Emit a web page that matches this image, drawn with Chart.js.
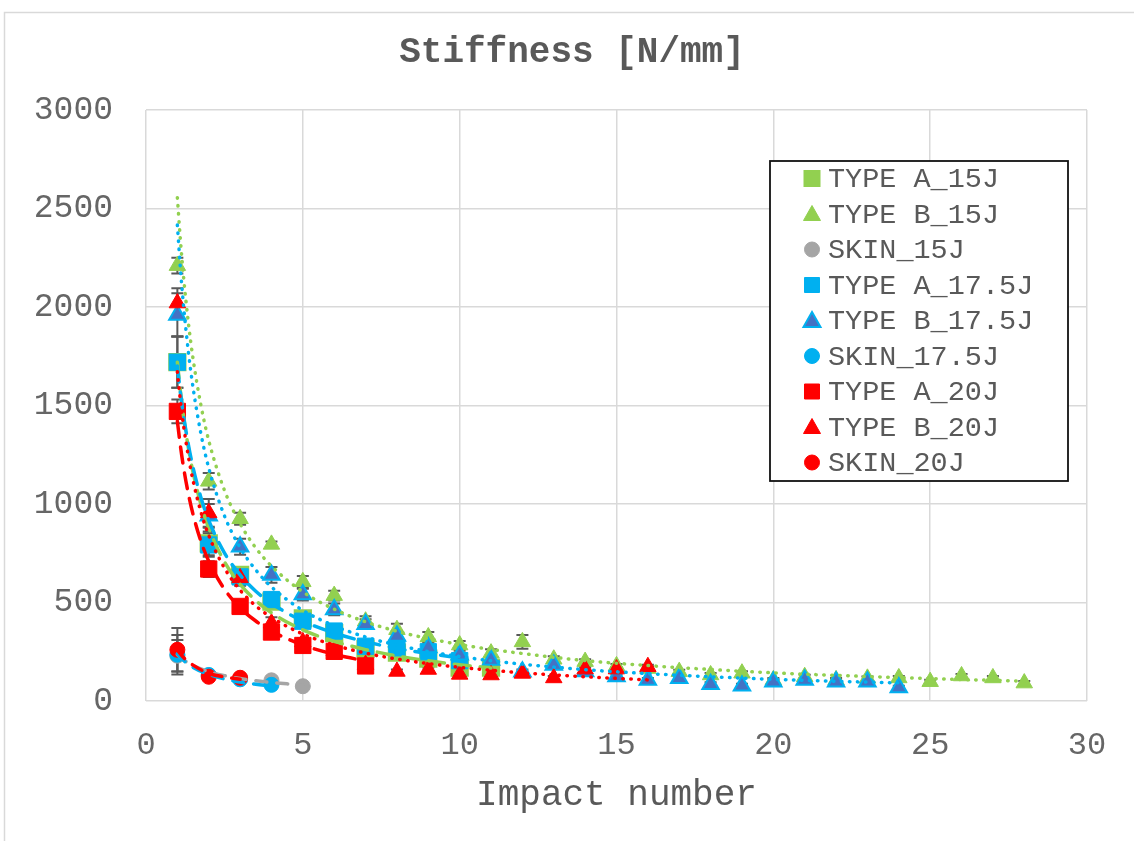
<!DOCTYPE html>
<html><head><meta charset="utf-8">
<script src="https://cdn.jsdelivr.net/npm/chart.js@4.4.1/dist/chart.umd.min.js"></script>
<style>
html,body{margin:0;padding:0;background:#fff;}
canvas{display:block;}
</style></head><body>
<canvas id="c" width="1134" height="841"></canvas>
<script>
// ---------- text ----------
const chartTitle = 'Stiffness [N/mm]';
const xAxisTitle = 'Impact number';
const seriesNames = ['TYPE A_15J','TYPE B_15J','SKIN_15J','TYPE A_17.5J','TYPE B_17.5J','SKIN_17.5J','TYPE A_20J','TYPE B_20J','SKIN_20J'];
const xTicks = [0, 5, 10, 15, 20, 25, 30];
const yTicks = [0, 500, 1000, 1500, 2000, 2500, 3000];

// ---------- measured points (x = impact number 1..n) ----------
const impactNumbers = [1,2,3,4,5,6,7,8,9,10,11,12,13,14,15,16,17,18,19,20,21,22,23,24,25,26,27,28];
const typeA15  = [1720, 800, 640, 505, 420, 345, 265, 245, 215, 170, 170];
const typeB15  = [2210, 1115, 925, 795, 605, 535, 405, 362, 325, 284, 243, 300, 212, 200, 178, 165, 149, 132, 141, 107, 123, 107, 115, 117, 98, 127, 117, 91];
const skin15   = [230, 130, 115, 105, 75];
const typeA175 = [1720, 792, 630, 515, 405, 355, 278, 270, 250, 205];
const typeB175 = [1960, 940, 783, 640, 540, 465, 390, 330, 272, 235, 208, 148, 183, 150, 125, 107, 115, 85, 78, 98, 107, 98, 98, 68];
const skin175  = [235, 132, 110, 82];
const typeA20  = [1470, 670, 480, 350, 282, 252, 178];
const typeB20  = [2020, 955, 625, 395, 300, 255, 185, 150, 160, 135, 132, 140, 117, 162, 162, 174];
const skin20   = [260, 123, 118];

// ---------- error bar half-widths ----------
const errA15  = [130, 60, 30, 25, 20, 15, 15, 10, 10, 10, 10];
const errB15  = [40, 42, 30, 15, 30, 25, 25, 30, 25, 20, 20, 35, 15, 12, 10, 10, 10, 10, 10, 10, 10, 10, 10, 10, 10, 10, 10, 10];
const errS15  = [80, 10, 10, 10, 10];
const errA175 = [130, 60, 30, 30, 20, 15, 15, 10, 10, 10];
const errB175 = [110, 60, 40, 40, 30, 30, 25, 25, 20, 20, 15, 12, 10, 10, 10, 10, 10, 10, 10, 10, 10, 10, 10, 10];
const errS175 = [100, 10, 10, 10];
const errA20  = [60, 40, 30, 30, 20, 15, 10];
const errB20  = [75, 70, 40, 30, 20, 20, 15, 10, 10, 10, 10, 10, 10, 10, 10, 10];
const errS20  = [110, 10, 10];

// ---------- trend lines ----------
const trendX = [1, 1.1, 1.2, 1.35, 1.5, 1.75, 2, 2.5, 3, 3.5, 4, 5, 6, 7, 8, 9, 10, 11, 12, 14, 16, 18, 20, 22, 24, 26, 28];
const trendA15  = [1720, 1568, 1441, 1286, 1161, 999, 878, 707, 593, 510, 448, 361, 303, 261, 229, 204, 184, 168];
const trendB15  = [2555, 2334, 2149, 1921, 1738, 1502, 1322, 1070, 900, 777, 685, 554, 466, 402, 354, 317, 287, 262, 241, 205, 180, 160, 143, 130, 119, 109, 101];
const trendA175 = [1700, 1562, 1445, 1302, 1185, 1033, 917, 752, 640, 557, 495, 406, 345, 301, 267, 241, 219];
const trendB175 = [2416, 2190, 2002, 1774, 1591, 1358, 1183, 940, 779, 665, 579, 460, 382, 325, 284, 251, 226, 204, 187, 159, 139, 123, 110, 100, 92];
const trendA20  = [1420, 1291, 1183, 1052, 947, 811, 710, 568, 473, 406, 355, 284, 237, 203];
const trendB20  = [1671, 1521, 1395, 1242, 1119, 960, 841, 675, 563, 483, 424, 340, 284, 243, 213, 190, 171, 156, 143, 123, 107];
const skinTrendX = [1, 1.25, 1.5, 2, 2.5, 3, 3.5, 4, 4.5, 5];
const trendS15  = [235, 203, 180, 149, 129, 114, 103, 94, 87, 81];
const trendS175 = [240, 199, 171, 135, 112, 96, 85, 76];
const trendS20  = [258, 212, 182, 140, 122, 110];

// ---------- styling ----------
const FONT = "'Liberation Mono', 'Courier New', monospace";
const GREEN = '#92D050', BLUE = '#00B0F0', DBLUE = '#4472C4', RED = '#FF0000', GRAY = '#A5A5A5';
const TEXT = '#595959', TICK = '#666666', GRID = '#D9D9D9';

const pts = (xs, ys) => ys.map((v, i) => ({x: xs[i], y: v}));

function markerDs(i, values, errors, style, fill, border, bw, radius) {
  return {
    label: seriesNames[i], data: pts(impactNumbers, values), errors: errors,
    showLine: false, pointStyle: style, pointRadius: radius, pointHoverRadius: radius,
    pointBackgroundColor: fill, pointBorderColor: border, pointBorderWidth: bw,
    backgroundColor: fill, borderColor: border, order: 100 - i
  };
}
function trendDs(xs, values, color, kind, ord) {
  const dash = kind === 'dot' ? [0.5, 7.5] : (kind === 'long' ? [16, 10] : [11, 10]);
  return {
    type: 'line', label: '', data: pts(xs, values), isTrend: true,
    borderColor: color, borderWidth: 3.5, borderDash: dash, borderCapStyle: 'round',
    pointRadius: 0, fill: false, cubicInterpolationMode: 'monotone', order: ord
  };
}

const datasets = [
  markerDs(0, typeA15, errA15, 'rect', GREEN, GREEN, 2, 11.5),
  markerDs(1, typeB15, errB15, 'triangle', GREEN, GREEN, 1, 9.5),
  markerDs(2, skin15, errS15, 'circle', GRAY, GRAY, 1, 7.5),
  markerDs(3, typeA175, errA175, 'rect', BLUE, BLUE, 1, 11.5),
  markerDs(4, typeB175, errB175, 'triangle', DBLUE, BLUE, 2, 9.5),
  markerDs(5, skin175, errS175, 'circle', BLUE, BLUE, 1, 7.5),
  markerDs(6, typeA20, errA20, 'rect', RED, RED, 1, 11.5),
  markerDs(7, typeB20, errB20, 'triangle', RED, RED, 1, 9.5),
  markerDs(8, skin20, errS20, 'circle', RED, RED, 1, 7.5),
  trendDs(trendX, trendA15, GREEN, 'long', 9),
  trendDs(trendX, trendB15, GREEN, 'dot', 8),
  trendDs(skinTrendX, trendS15, GRAY, 'short', 7),
  trendDs(trendX, trendA175, BLUE, 'long', 6),
  trendDs(trendX, trendB175, BLUE, 'dot', 5),
  trendDs(skinTrendX, trendS175, BLUE, 'short', 4),
  trendDs(trendX, trendA20, RED, 'long', 3),
  trendDs(trendX, trendB20, RED, 'dot', 2),
  trendDs(skinTrendX, trendS20, RED, 'short', 1)
];

// background + outer frame
const framePlugin = {
  id: 'frame',
  beforeDraw(chart) {
    const ctx = chart.ctx;
    ctx.save();
    ctx.fillStyle = '#fff';
    ctx.fillRect(0, 0, chart.width, chart.height);
    ctx.strokeStyle = GRID; ctx.lineWidth = 1.5;
    ctx.strokeRect(4.5, 12.5, chart.width + 20, chart.height + 20);
    ctx.restore();
  }
};

// error bars from the error arrays, drawn behind the markers
const errorBarPlugin = {
  id: 'errorBars',
  beforeDatasetsDraw(chart) {
    const {ctx, scales: {x, y}} = chart;
    ctx.save();
    ctx.strokeStyle = TEXT; ctx.lineWidth = 2;
    chart.data.datasets.forEach(ds => {
      if (!ds.errors) return;
      ds.data.forEach((p, j) => {
        const e = ds.errors[j];
        if (!e) return;
        const px = x.getPixelForValue(p.x);
        const t = y.getPixelForValue(p.y + e), b = y.getPixelForValue(p.y - e);
        ctx.beginPath();
        ctx.moveTo(px, t); ctx.lineTo(px, b);
        ctx.moveTo(px - 6, t); ctx.lineTo(px + 6, t);
        ctx.moveTo(px - 6, b); ctx.lineTo(px + 6, b);
        ctx.stroke();
      });
    });
    ctx.restore();
  }
};

function drawMarker(ctx, style, cx, cy, fill, border, bw) {
  ctx.save();
  ctx.fillStyle = fill; ctx.strokeStyle = border; ctx.lineWidth = bw;
  ctx.beginPath();
  if (style === 'rect') {
    ctx.rect(cx - 7.5, cy - 7.5, 15, 15);
  } else if (style === 'triangle') {
    ctx.moveTo(cx, cy - 8.5); ctx.lineTo(cx + 8.5, cy + 6.5); ctx.lineTo(cx - 8.5, cy + 6.5); ctx.closePath();
  } else {
    ctx.arc(cx, cy, 7.5, 0, Math.PI * 2);
  }
  ctx.fill(); ctx.stroke();
  ctx.restore();
}

// boxed legend inside the plot area
const boxLegendPlugin = {
  id: 'boxLegend',
  afterDraw(chart) {
    const ctx = chart.ctx;
    ctx.save();
    ctx.fillStyle = '#fff';
    ctx.fillRect(770, 161, 298, 320);
    ctx.strokeStyle = '#111'; ctx.lineWidth = 1.8;
    ctx.strokeRect(770, 161, 298, 320);
    ctx.font = '28.5px ' + FONT;
    ctx.textBaseline = 'middle'; ctx.textAlign = 'left';
    seriesNames.forEach((name, i) => {
      const ds = chart.data.datasets[i];
      const cy = 178.5 + i * 35.5;
      drawMarker(ctx, ds.pointStyle, 812, cy, ds.pointBackgroundColor, ds.pointBorderColor, ds.pointBorderWidth);
      ctx.fillStyle = TEXT;
      ctx.fillText(name, 828, cy + 1);
    });
    ctx.restore();
  }
};

new Chart(document.getElementById('c'), {
  type: 'scatter',
  data: { datasets },
  options: {
    responsive: false, animation: false, devicePixelRatio: 1,
    layout: { padding: { left: 10, right: 0, top: 0, bottom: 0 } },
    plugins: {
      legend: { display: false },
      tooltip: { enabled: false },
      title: {
        display: true, text: chartTitle, color: TEXT,
        font: { family: FONT, size: 36, weight: 'bold' },
        padding: { top: 31, bottom: 35.8 }
      }
    },
    scales: {
      x: {
        type: 'linear', min: xTicks[0], max: xTicks[xTicks.length - 1],
        ticks: { stepSize: xTicks[1] - xTicks[0], color: TICK, font: { family: FONT, size: 32 }, padding: 25, callback: v => String(v) },
        grid: { color: GRID, lineWidth: 1.5, drawTicks: false },
        border: { display: false },
        title: { display: true, text: xAxisTitle, color: TEXT, font: { family: FONT, size: 36 }, padding: { top: 0, bottom: 24 } },
        afterFit: s => { s.height = 140; }
      },
      y: {
        type: 'linear', min: yTicks[0], max: yTicks[yTicks.length - 1],
        ticks: { stepSize: yTicks[1] - yTicks[0], color: TICK, font: { family: FONT, size: 33 }, padding: 33, callback: v => String(v) },
        grid: { color: GRID, lineWidth: 1.5, drawTicks: false },
        border: { display: false },
        afterFit: s => { s.width = 136; }
      },
      yR: {
        type: 'linear', position: 'right', min: 0, max: 1,
        grid: { display: false, drawTicks: false }, ticks: { display: false }, border: { display: false },
        afterFit: s => { s.width = 47; }
      }
    }
  },
  plugins: [framePlugin, errorBarPlugin, boxLegendPlugin]
});
</script>
</body></html>
